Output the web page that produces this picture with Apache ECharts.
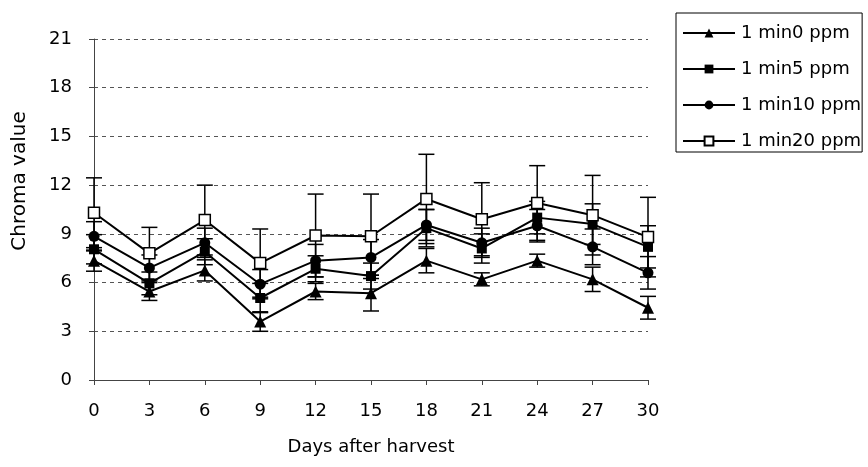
<!DOCTYPE html>
<html>
<head>
<meta charset="utf-8">
<script src="https://cdn.jsdelivr.net/npm/echarts@6/dist/echarts.min.js"></script>
<style>html,body{margin:0;padding:0;background:#fff;}#chart{width:868px;height:467px;}</style>
</head>
<body>
<div id="chart"></div>
<script>
var days = ['0','3','6','9','12','15','18','21','24','27','30'];
var seriesNames = ['1 min0 ppm','1 min5 ppm','1 min10 ppm','1 min20 ppm'];
var ppm0  = [7.35, 5.45, 6.75, 3.6, 5.45, 5.35, 7.35, 6.2, 7.35, 6.2, 4.45];
var ppm5  = [8.05, 5.95, 7.9, 5.05, 6.85, 6.4, 9.35, 8.1, 10.0, 9.6, 8.2];
var ppm10 = [8.85, 6.9, 8.45, 5.9, 7.35, 7.55, 9.55, 8.45, 9.5, 8.2, 6.6];
var ppm20 = [10.3, 7.8, 9.85, 7.2, 8.9, 8.85, 11.15, 9.9, 10.9, 10.15, 8.8];
var sd0  = [0.65, 0.55, 0.65, 0.6, 0.5, 1.1, 0.75, 0.4, 0.4, 0.75, 0.7];
var sd5  = [0.9, 0.7, 0.8, 0.9, 0.8, 0.8, 1.15, 0.9, 1.0, 1.25, 1.3];
var sd10 = [0.9, 0.8, 0.9, 0.9, 1.0, 1.1, 0.95, 0.9, 1.0, 1.1, 1.0];
var sd20 = [2.15, 1.6, 2.15, 2.1, 2.55, 2.6, 2.75, 2.25, 2.3, 2.45, 2.45];
var yTicks = [0, 3, 6, 9, 12, 15, 18, 21];

var FONT = 'DejaVu Sans';
var means = [ppm0, ppm5, ppm10, ppm20];
var sds = [sd0, sd5, sd10, sd20];
var symbols = ['triangle', 'rect', 'circle', 'rect'];
var symSizes = [12, 10, 11, 11];
var fills = ['#000', '#000', '#000', '#fff'];

function errData(m, s) {
  return m.map(function (v, i) { return [i, v - s[i], v + s[i]]; });
}
function renderErr(params, api) {
  var x = api.value(0);
  var lo = api.coord([x, api.value(1)]);
  var hi = api.coord([x, api.value(2)]);
  var hw = 8;
  var st = { stroke: '#000', lineWidth: 1.5 };
  return {
    type: 'group',
    children: [
      { type: 'line', shape: { x1: hi[0], y1: hi[1], x2: lo[0], y2: lo[1] }, style: st },
      { type: 'line', shape: { x1: hi[0] - hw, y1: hi[1], x2: hi[0] + hw, y2: hi[1] }, style: st },
      { type: 'line', shape: { x1: lo[0] - hw, y1: lo[1], x2: lo[0] + hw, y2: lo[1] }, style: st }
    ]
  };
}

var series = [];
for (var k = 0; k < 4; k++) {
  series.push({
    type: 'custom',
    name: seriesNames[k] + ' err',
    renderItem: renderErr,
    data: errData(means[k], sds[k]),
    encode: { x: 0, y: [1, 2] },
    z: 1,
    silent: true
  });
}
for (var k2 = 0; k2 < 4; k2++) {
  series.push({
    type: 'line',
    name: seriesNames[k2],
    data: means[k2],
    symbol: symbols[k2],
    symbolSize: symSizes[k2],
    showAllSymbol: true,
    lineStyle: { color: '#000', width: 2 },
    itemStyle: { color: fills[k2], borderColor: '#000', borderWidth: k2 === 3 ? 1.5 : 0 },
    z: 3,
    animation: false
  });
}

var chart = echarts.init(document.getElementById('chart'));
chart.setOption({
  animation: false,
  backgroundColor: '#fff',
  grid: { left: 94, right: 220, top: 39, bottom: 87 },
  legend: {
    data: seriesNames.slice(),
    orient: 'vertical',
    left: 676,
    top: 13,
    itemWidth: 52,
    itemHeight: 11,
    itemGap: 18,
    padding: [11, 1, 2, 6],
    borderColor: '#000',
    borderWidth: 1,
    textStyle: { fontFamily: FONT, fontSize: 18, color: '#000', padding: [0, 0, 0, 1] }
  },
  xAxis: {
    type: 'category',
    data: days,
    boundaryGap: false,
    axisLine: { lineStyle: { color: '#444', width: 1 } },
    axisTick: { show: true, length: 5, inside: false, alignWithLabel: true, lineStyle: { color: '#444' } },
    axisLabel: { fontFamily: FONT, fontSize: 18, color: '#000', margin: 22 },
    name: 'Days after harvest',
    nameLocation: 'middle',
    nameGap: 58,
    nameTextStyle: { fontFamily: FONT, fontSize: 18, color: '#000' },
    splitLine: { show: false }
  },
  yAxis: {
    type: 'value',
    min: yTicks[0],
    max: yTicks[yTicks.length - 1],
    interval: 3,
    axisLine: { show: true, lineStyle: { color: '#444', width: 1 } },
    axisTick: { show: true, length: 5, lineStyle: { color: '#444' } },
    axisLabel: { fontFamily: FONT, fontSize: 18, color: '#000', margin: 22 },
    splitLine: { show: true, lineStyle: { color: '#555', type: [4, 4], width: 1 } }
  },
  graphic: [{
    type: 'text',
    rotation: Math.PI / 2,
    style: { text: 'Chroma value', fontFamily: FONT, fontSize: 20, fill: '#000', align: 'center', verticalAlign: 'middle' },
    x: 20, y: 181
  }],
  series: series
});
</script>
</body>
</html>
